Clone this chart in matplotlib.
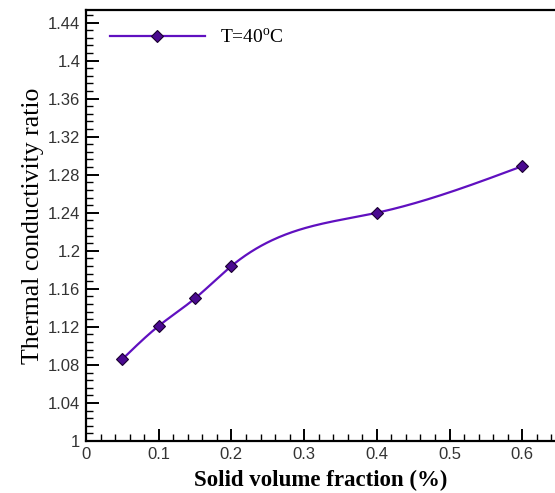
import numpy as np
import matplotlib
matplotlib.use("Agg")
import matplotlib.pyplot as plt
from matplotlib.ticker import MultipleLocator

volume_fraction = [0.05, 0.1, 0.15, 0.2, 0.4, 0.6]
conductivity_ratio = [1.086, 1.121, 1.150, 1.184, 1.240, 1.289]
series_label = "T=40$^{\\mathrm{o}}$C"

def natural_spline(x, y, xs):
    x = np.asarray(x, float); y = np.asarray(y, float)
    n = len(x)
    h = np.diff(x)
    A = np.zeros((n, n)); b = np.zeros(n)
    A[0, 0] = 1; A[-1, -1] = 1
    for i in range(1, n - 1):
        A[i, i - 1] = h[i - 1]
        A[i, i] = 2 * (h[i - 1] + h[i])
        A[i, i + 1] = h[i]
        b[i] = 3 * ((y[i + 1] - y[i]) / h[i] - (y[i] - y[i - 1]) / h[i - 1])
    c = np.linalg.solve(A, b)
    out = np.empty_like(xs)
    for k, xv in enumerate(xs):
        i = min(max(np.searchsorted(x, xv) - 1, 0), n - 2)
        dx = xv - x[i]
        bi = (y[i + 1] - y[i]) / h[i] - h[i] * (2 * c[i] + c[i + 1]) / 3
        di = (c[i + 1] - c[i]) / (3 * h[i])
        out[k] = y[i] + bi * dx + c[i] * dx ** 2 + di * dx ** 3
    return out

plt.rcParams['font.family'] = ['Liberation Serif', 'DejaVu Serif']
plt.rcParams['mathtext.fontset'] = 'custom'
plt.rcParams['mathtext.rm'] = 'Liberation Serif'

fig = plt.figure(figsize=(5.55, 4.93), dpi=100)
ax = fig.add_axes([86 / 555, 52 / 493, 509 / 555, 431 / 493])

xs = np.linspace(volume_fraction[0], volume_fraction[-1], 300)
ys = natural_spline(volume_fraction, conductivity_ratio, xs)
line_color = '#6010c0'
ax.plot(xs, ys, color=line_color, lw=1.6, zorder=2)
ax.plot(volume_fraction, conductivity_ratio, ls='none', marker='D', ms=6.5,
        mfc='#4a0a90', mec='#1a0030', mew=0.8, zorder=3)

ax.set_xlim(0, 0.7)
ax.set_ylim(1.0, 1.4532)
ax.xaxis.set_minor_locator(MultipleLocator(0.02))
ax.yaxis.set_minor_locator(MultipleLocator(0.008))

def fmt(v):
    s = f"{v:.2f}".rstrip('0').rstrip('.')
    return s
xt = [0, 0.1, 0.2, 0.3, 0.4, 0.5, 0.6]
ax.set_xticks(xt)
ax.set_xticklabels([fmt(v) for v in xt])
yt = [1.0 + 0.04 * i for i in range(12)]
ax.set_yticks(yt)
ax.set_yticklabels([fmt(v) for v in yt])

for lab in ax.get_xticklabels() + ax.get_yticklabels():
    lab.set_family(['Liberation Sans', 'DejaVu Sans'])
    lab.set_fontsize(12)
    lab.set_color('#333333')

ax.tick_params(which='major', direction='in', length=9, width=1.4, pad=4)
ax.tick_params(which='minor', direction='in', length=5, width=1.0)
ax.tick_params(top=False, right=False)
for s in ['left', 'bottom', 'top']:
    ax.spines[s].set_linewidth(1.6)
ax.spines['right'].set_visible(False)

ax.set_xlabel('Solid volume fraction (%)', fontsize=16.5, fontweight='bold')
ax.xaxis.set_label_coords(0.462, -0.068)
ax.set_ylabel('Thermal conductivity ratio', fontsize=18.5, labelpad=3)

leg_handle, = ax.plot([], [], color=line_color, lw=1.6, marker='D', ms=6.5,
                      mfc='#4a0a90', mec='#1a0030', mew=0.8)
leg = ax.legend([leg_handle], [series_label], loc='upper left', frameon=False,
                bbox_to_anchor=(0.012, 1.0), handlelength=4.9, fontsize=14,
                handletextpad=0.8, numpoints=1)
fig.savefig('out.png', dpi=100)
